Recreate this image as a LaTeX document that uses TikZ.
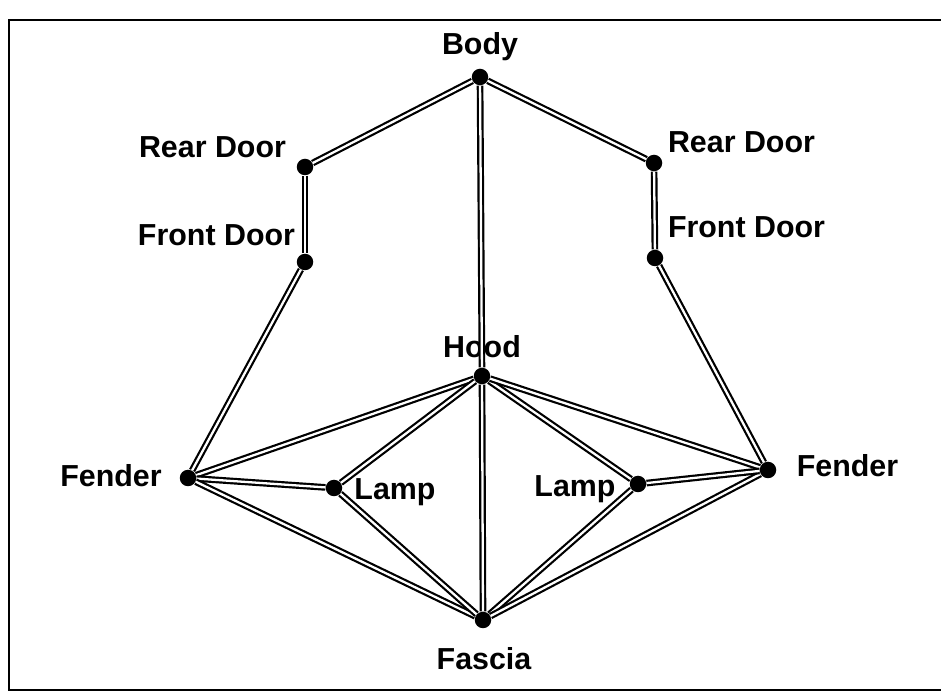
\documentclass[tikz,border=0pt]{standalone}
\usepackage{fontspec}
\setmainfont{Liberation Sans}
\begin{document}
\begin{tikzpicture}[x=0.02cm,y=-0.02cm,
  dot/.style={circle,fill=black,inner sep=0pt,minimum size=0.33cm},
  lbl/.style={anchor=base,inner sep=0pt,font=\fontsize{17.3}{19}\selectfont\bfseries},
  link/.style={draw=black,line width=1.25pt,double=white,double distance=1.3pt}]
\useasboundingbox (0,0) rectangle (941,692);
\draw[line width=1.4pt] (941,20) -- (9,20) -- (9,690) -- (941,690);
% dots
\node[dot] (body) at (480,77) {};
\node[dot] (rdl) at (305,167) {};
\node[dot] (fdl) at (305,262) {};
\node[dot] (rdr) at (654,163) {};
\node[dot] (fdr) at (655,258) {};
\node[dot] (hood) at (482,376) {};
\node[dot] (fenl) at (188,478) {};
\node[dot] (lampl) at (334,488) {};
\node[dot] (lampr) at (638,484) {};
\node[dot] (fenr) at (768,470) {};
\node[dot] (fascia) at (483,620) {};
% labels
\node[lbl] (tbody) at (480,55) {Body};
\node[lbl] (trdl) at (212.5,158) {Rear Door};
\node[lbl] (tfdl) at (216.5,246) {Front Door};
\node[lbl] (trdr) at (741.5,153) {Rear Door};
\node[lbl] (tfdr) at (746.5,238) {Front Door};
\node[lbl] (thood) at (482,358) {Hood};
\node[lbl] (tfenl) at (111,487) {Fender};
\node[lbl] (tlampl) at (395,500) {Lamp};
\node[lbl] (tlampr) at (575,497) {Lamp};
\node[lbl] (tfenr) at (847.5,477) {Fender};
\node[lbl] (tfascia) at (484,670) {Fascia};
% links
\foreach \a/\b in {body/rdl, rdl/fdl, fdl/fenl, body/rdr, rdr/fdr, fdr/fenr,
  body/hood, hood/fascia, hood/fenl, hood/lampl, hood/lampr, hood/fenr,
  fenl/lampl, fenl/fascia, lampl/fascia, lampr/fascia, fenr/fascia, lampr/fenr}
  \path[link] (\a) -- (\b);
\end{tikzpicture}
\end{document}
